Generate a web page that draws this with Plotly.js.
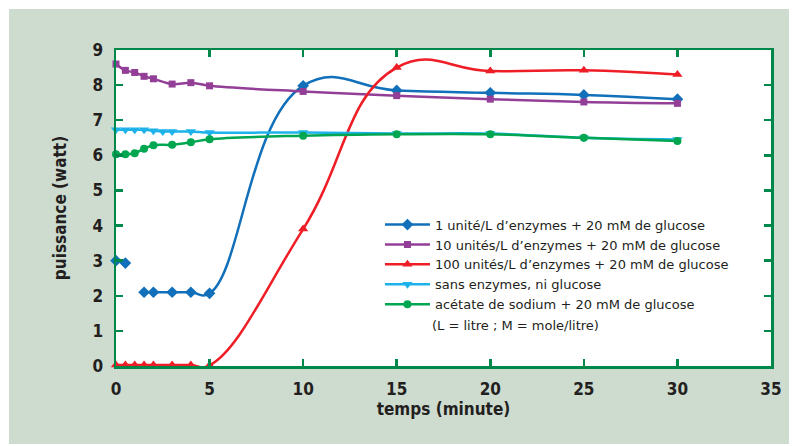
<!DOCTYPE html>
<html>
<head>
<meta charset="utf-8">
<script src="https://cdn.plot.ly/plotly-3.0.1.min.js"></script>
<style>
html,body{margin:0;padding:0;background:#ffffff;}
#bg{position:absolute;left:9px;top:9px;width:780px;height:435px;background:#cedbcf;}
#chart{position:absolute;left:0;top:0;width:793px;height:446px;}
</style>
</head>
<body>
<div id="bg"></div>
<div id="chart"></div>
<script>
// Data
var names = [
  "1 unité/L d’enzymes + 20 mM de glucose",
  "10 unités/L d’enzymes + 20 mM de glucose",
  "100 unités/L d’enzymes + 20 mM de glucose",
  "sans enzymes, ni glucose",
  "acétate de sodium + 20 mM de glucose"
];
var xBlue   = [0, 0.5, 1, 1.5, 2, 3, 4, 5, 10, 15, 20, 25, 30];
var yBlue   = [3.0, 2.93, null, 2.1, 2.1, 2.1, 2.1, 2.07, 7.98, 7.85, 7.78, 7.72, 7.6];
var xPurple = [0, 0.5, 1, 1.5, 2, 3, 4, 5, 10, 15, 20, 25, 30];
var yPurple = [8.6, 8.42, 8.36, 8.25, 8.18, 8.03, 8.07, 7.98, 7.82, 7.70, 7.60, 7.52, 7.48];
var xRed    = [0, 0.5, 1, 1.5, 2, 3, 4, 5, 10, 15, 20, 25, 30];
var yRed    = [0.03, 0.03, 0.03, 0.03, 0.03, 0.03, 0.03, 0.02, 3.9, 8.5, 8.4, 8.42, 8.3];
var xCyan   = [0, 0.5, 1, 1.5, 2, 2.5, 3, 4, 5, 10, 15, 20, 25, 30];
var yCyan   = [6.73, 6.73, 6.73, 6.73, 6.70, 6.68, 6.68, 6.68, 6.65, 6.65, 6.62, 6.62, 6.5, 6.45];
var xGreen  = [0, 0.5, 1, 1.5, 2, 3, 4, 5, 10, 15, 20, 25, 30];
var yGreen  = [6.03, 6.03, 6.06, 6.19, 6.29, 6.30, 6.37, 6.46, 6.56, 6.6, 6.6, 6.5, 6.41];
var xTicks = [0, 5, 10, 15, 20, 25, 30, 35];
var yTicks = [0, 1, 2, 3, 4, 5, 6, 7, 8, 9];
var note = "(L = litre ; M = mole/litre)";

var colors = ["#1170b9", "#933f98", "#ee1d26", "#1db3ea", "#00a650"];
var symbols = ["diamond", "square", "triangle-up", "triangle-down", "circle"];
var sizes = [9, 7, 9, 9, 8];
var smooth = [1.3, 1, 1.3, 1, 1];
var xs = [xBlue, xPurple, xRed, xCyan, xGreen];
var ys = [yBlue, yPurple, yRed, yCyan, yGreen];

var traces = [];
for (var i = 0; i < 5; i++) {
  traces.push({
    x: xs[i], y: ys[i], name: names[i], type: "scatter", mode: "lines+markers",
    connectgaps: false, cliponaxis: false,
    line: {color: colors[i], width: 2.5, shape: "spline", smoothing: smooth[i]},
    marker: {color: colors[i], symbol: symbols[i], size: sizes[i]}
  });
}

var axisColor = "#00874a";
var font = "'DejaVu Sans Condensed', 'DejaVu Sans', sans-serif";
var lfont = "'DejaVu Sans', sans-serif";
var layout = {
  width: 793, height: 446,
  paper_bgcolor: "rgba(0,0,0,0)", plot_bgcolor: "#ffffff",
  margin: {l: 116, r: 22, t: 50, b: 80},
  showlegend: true,
  legend: {x: 0.403, y: 0.495, xanchor: "left", yanchor: "top",
           bgcolor: "rgba(0,0,0,0)", font: {family: lfont, size: 13, color: "#231f20"},
           tracegroupgap: 0, itemwidth: 45},
  xaxis: {range: [0, 35], tickvals: xTicks, ticks: "inside", ticklen: 7, tickwidth: 2.5,
          tickcolor: axisColor, showline: true, linecolor: axisColor, linewidth: 2.5,
          mirror: "ticks", showgrid: false, zeroline: false,
          tickfont: {family: font, size: 17, color: "#231f20", weight: "bold"},
          ticklabelstandoff: 6,
          title: {text: "temps (minute)", standoff: 5,
                  font: {family: font, size: 17, color: "#231f20", weight: "bold"}}},
  yaxis: {range: [0, 9], tickvals: yTicks, ticks: "inside", ticklen: 7, tickwidth: 2.5,
          tickcolor: axisColor, showline: true, linecolor: axisColor, linewidth: 2.5,
          mirror: "ticks", showgrid: false, zeroline: false,
          tickfont: {family: font, size: 17, color: "#231f20", weight: "bold"},
          ticklabelstandoff: 7,
          title: {text: "puissance (watt)", standoff: 22,
                  font: {family: font, size: 17, color: "#231f20", weight: "bold"}}},
  annotations: [{text: note, xref: "paper", yref: "paper", x: 0.48, y: 0.127,
                 xanchor: "left", yanchor: "middle", showarrow: false,
                 font: {family: lfont, size: 13, color: "#231f20"}}]
};

Plotly.newPlot("chart", traces, layout, {displayModeBar: false, staticPlot: true});
</script>
</body>
</html>
